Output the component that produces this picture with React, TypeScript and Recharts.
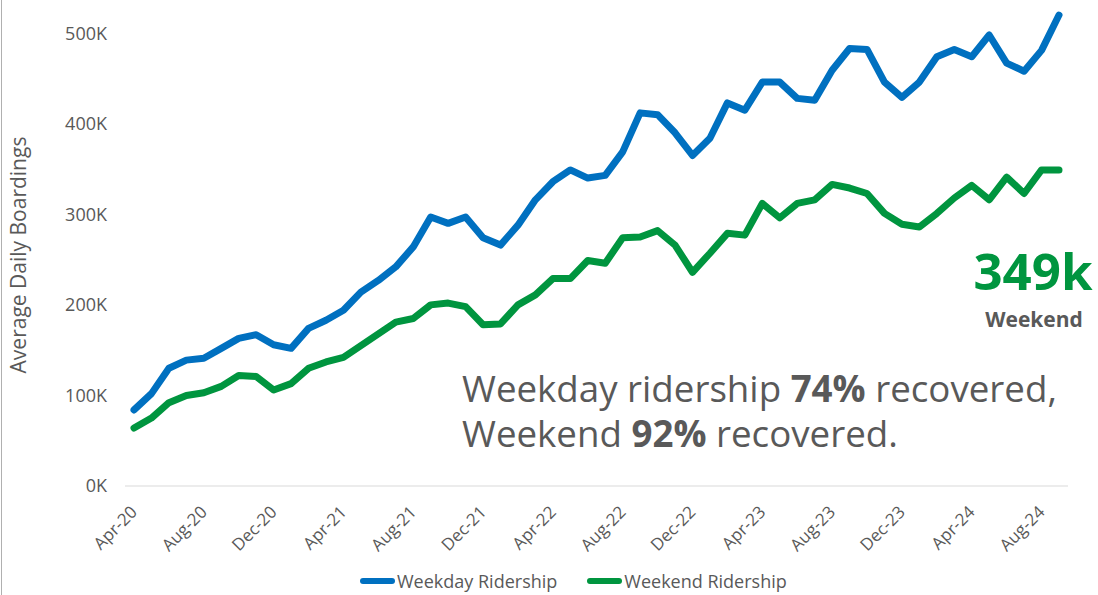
import React from "react";
import { LineChart, Line, XAxis, YAxis, Legend } from "recharts";

// monthly average daily boardings, Apr-20 .. Sep-24
const months = [
  "Apr-20", "May-20", "Jun-20", "Jul-20", "Aug-20", "Sep-20", "Oct-20", "Nov-20", "Dec-20",
  "Jan-21", "Feb-21", "Mar-21", "Apr-21", "May-21", "Jun-21", "Jul-21", "Aug-21", "Sep-21", "Oct-21", "Nov-21", "Dec-21",
  "Jan-22", "Feb-22", "Mar-22", "Apr-22", "May-22", "Jun-22", "Jul-22", "Aug-22", "Sep-22", "Oct-22", "Nov-22", "Dec-22",
  "Jan-23", "Feb-23", "Mar-23", "Apr-23", "May-23", "Jun-23", "Jul-23", "Aug-23", "Sep-23", "Oct-23", "Nov-23", "Dec-23",
  "Jan-24", "Feb-24", "Mar-24", "Apr-24", "May-24", "Jun-24", "Jul-24", "Aug-24", "Sep-24",
];

const weekday = [
  84000, 102000, 130000, 139000, 141000, 152000, 163000, 167000, 156000,
  152000, 174000, 183000, 194000, 214000, 227000, 242000, 264000, 297000, 290000, 297000, 274000,
  266000, 288000, 316000, 336000, 349000, 340000, 343000, 369000, 412000, 410000, 390000, 365000,
  384000, 423000, 415000, 446000, 446000, 428000, 426000, 459000, 483000, 482000, 446000, 429000,
  446000, 474000, 482000, 474000, 498000, 467000, 458000, 481000, 520000,
];

const weekend = [
  64000, 75000, 92000, 100000, 103000, 110000, 122000, 121000, 106000,
  113000, 130000, 137000, 142000, 155000, 168000, 181000, 185000, 200000, 202000, 198000, 178000,
  179000, 200000, 211000, 229000, 229000, 249000, 246000, 274000, 275000, 282000, 266000, 236000,
  257000, 279000, 277000, 312000, 296000, 312000, 316000, 333000, 329000, 323000, 301000, 289000,
  286000, 301000, 318000, 332000, 316000, 341000, 323000, 349000, 349000,
];

const yTicks = [0, 100000, 200000, 300000, 400000, 500000];

const data = months.map((month, i) => ({ month, weekday: weekday[i], weekend: weekend[i] }));

const BLUE = "#0070C0";
const GREEN = "#00953F";
const GREY = "#595959";
const FONT = "'Open Sans', sans-serif";

function MonthTick(props: any) {
  const { x, y, payload } = props;
  return (
    <g transform={`translate(${x},${y + 23})`}>
      <text textAnchor="end" dy="0.35em" transform="rotate(-45)" fill={GREY} fontSize={17} fontFamily={FONT}>
        {payload.value}
      </text>
    </g>
  );
}

function RidershipLegend(props: any) {
  const items = props.payload || [];
  return (
    <div style={{ display: "flex", alignItems: "center", height: 28, paddingLeft: 360, fontFamily: FONT, fontSize: 18, color: GREY }}>
      {items.map((it: any, i: number) => (
        <div key={it.value} style={{ display: "flex", alignItems: "center", marginRight: i === 0 ? 30 : 0 }}>
          <span style={{ display: "inline-block", width: 35, height: 6, borderRadius: 3, background: it.color, marginRight: 2 }} />
          <span>{it.value}</span>
        </div>
      ))}
    </div>
  );
}

const noteStyle: React.CSSProperties = {
  position: "absolute", left: 462, height: 45, fontSize: 36.7, lineHeight: "45px",
  color: GREY, whiteSpace: "nowrap", overflow: "visible",
};

export default function App() {
  return (
    <div style={{ position: "absolute", left: 0, top: 0, width: 1098, height: 595, fontFamily: FONT, background: "#fff", overflow: "hidden" }}>
      <div style={{ position: "absolute", left: 1, top: 0, width: 1, height: 595, background: "#b0b0b0" }} />
      <LineChart width={1098} height={595} data={data} margin={{ top: 6, right: 30, left: 0, bottom: 0 }}>
        <XAxis
          dataKey="month"
          interval={3}
          tick={<MonthTick />}
          tickLine={false}
          tickSize={0}
          tickMargin={0}
          axisLine={{ stroke: "#d9d9d9" }}
          height={81}
          padding={{ left: 9, right: 9 }}
        />
        <YAxis
          width={125}
          domain={[0, 530000]}
          ticks={yTicks}
          tickFormatter={(v: number) => `${v / 1000}K`}
          axisLine={false}
          tickLine={false}
          tickSize={0}
          tickMargin={18}
          tick={{ fill: GREY, fontSize: 18, fontFamily: FONT }}
        />
        <Legend verticalAlign="bottom" align="left" height={28} content={<RidershipLegend />} />
        <Line
          dataKey="weekday"
          name="Weekday Ridership"
          stroke={BLUE}
          strokeWidth={7}
          strokeLinecap="round"
          strokeLinejoin="round"
          dot={false}
          isAnimationActive={false}
        />
        <Line
          dataKey="weekend"
          name="Weekend Ridership"
          stroke={GREEN}
          strokeWidth={7}
          strokeLinecap="round"
          strokeLinejoin="round"
          dot={false}
          isAnimationActive={false}
        />
      </LineChart>

      <div
        style={{
          position: "absolute", left: -132, top: 243, width: 300, height: 24, lineHeight: "24px",
          textAlign: "center", transform: "rotate(-90deg)", fontSize: 21, color: GREY, whiteSpace: "nowrap",
        }}
      >
        Average Daily Boardings
      </div>

      <div style={{ position: "absolute", left: 933, top: 245, width: 200, textAlign: "center", fontSize: 51, lineHeight: "51px", fontWeight: 700, color: GREEN }}>
        349k
      </div>
      <div style={{ position: "absolute", left: 934, top: 309, width: 200, textAlign: "center", fontSize: 21, lineHeight: "21px", fontWeight: 700, color: GREY }}>
        Weekend
      </div>

      <div style={{ ...noteStyle, top: 366 }}>
        Weekday ridership <b>74%</b> recovered,
      </div>
      <div style={{ ...noteStyle, top: 411 }}>
        Weekend <b>92%</b> recovered.
      </div>
    </div>
  );
}
